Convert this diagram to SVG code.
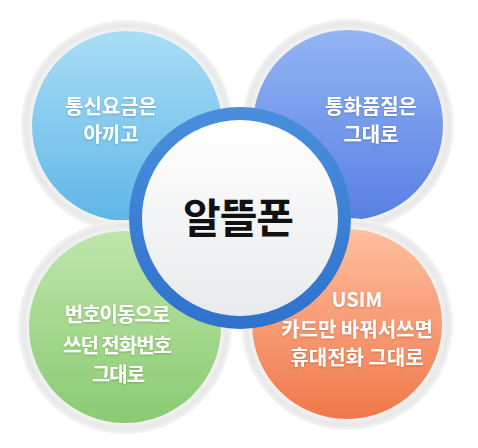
<svg xmlns="http://www.w3.org/2000/svg" width="478" height="448" viewBox="0 0 478 448">
  <defs>
    <linearGradient id="gBlue" x1="0" y1="0" x2="0" y2="1">
      <stop offset="0" stop-color="#a9def5"/>
      <stop offset="1" stop-color="#5fb6e8"/>
    </linearGradient>
    <linearGradient id="gIndigo" x1="0" y1="0" x2="0" y2="1">
      <stop offset="0" stop-color="#94b5f3"/>
      <stop offset="1" stop-color="#587fe4"/>
    </linearGradient>
    <linearGradient id="gGreen" x1="0" y1="0" x2="0" y2="1">
      <stop offset="0" stop-color="#bfe6ab"/>
      <stop offset="1" stop-color="#8acb72"/>
    </linearGradient>
    <linearGradient id="gOrange" x1="0" y1="0" x2="0" y2="1">
      <stop offset="0" stop-color="#ffbf9f"/>
      <stop offset="1" stop-color="#f0784a"/>
    </linearGradient>
    <radialGradient id="gRing" cx="0.5" cy="0.5" r="0.5">
      <stop offset="0.88" stop-color="#f7f7f7"/>
      <stop offset="0.95" stop-color="#e8e8ea"/>
      <stop offset="1" stop-color="#f4f4f4"/>
    </radialGradient>
    <linearGradient id="gCenter" x1="0" y1="0" x2="0" y2="1">
      <stop offset="0" stop-color="#ffffff"/>
      <stop offset="1" stop-color="#e9eaec"/>
    </linearGradient>
    <linearGradient id="gCRing" x1="0" y1="0" x2="0" y2="1">
      <stop offset="0" stop-color="#4a8fdc"/>
      <stop offset="1" stop-color="#2f72cc"/>
    </linearGradient>
    <filter id="ts" x="-10%" y="-30%" width="120%" height="160%">
      <feDropShadow dx="0" dy="1" stdDeviation="0.8" flood-color="#000" flood-opacity="0.2"/>
    </filter>
  </defs>
  <style>
    .ring { fill: url(#gRing); }
    .lbl { font-family: "Noto Sans CJK KR", "Noto Sans", sans-serif; font-size: 20px; font-weight: 700; fill: #ffffff; text-anchor: middle; letter-spacing: 0px; filter: url(#ts); }
    .tight { letter-spacing: -1px; }
    .ctr { font-family: "Noto Sans CJK KR", "Noto Sans", sans-serif; font-size: 41px; font-weight: 700; fill: #111111; text-anchor: middle; letter-spacing: -1px; }
  </style>
  <rect width="478" height="448" fill="#ffffff"/>
  <g id="connectors"></g>
  <g id="node-tl">
    <circle class="ring" cx="127" cy="126" r="106"/>
    <circle cx="127" cy="126" r="95" fill="url(#gBlue)"/>
    <text class="lbl" x="111" y="114">통신요금은</text>
    <text class="lbl" x="111" y="142">아끼고</text>
  </g>
  <g id="node-tr">
    <circle class="ring" cx="348" cy="125" r="106"/>
    <circle cx="348" cy="125" r="95" fill="url(#gIndigo)"/>
    <text class="lbl" x="371" y="114">통화품질은</text>
    <text class="lbl" x="371" y="142">그대로</text>
  </g>
  <g id="node-bl">
    <circle class="ring" cx="125" cy="327" r="107"/>
    <circle cx="125" cy="327" r="96" fill="url(#gGreen)"/>
    <text class="lbl tight" x="117" y="322">번호이동으로</text>
    <text class="lbl tight" x="117" y="353">쓰던 전화번호</text>
    <text class="lbl tight" x="118" y="382">그대로</text>
  </g>
  <g id="node-br">
    <circle class="ring" cx="347" cy="324" r="106"/>
    <circle cx="347" cy="324" r="95" fill="url(#gOrange)"/>
    <text class="lbl" x="357" y="307">USIM</text>
    <text class="lbl" x="357" y="337">카드만 바꿔서쓰면</text>
    <text class="lbl" x="357" y="365">휴대전화 그대로</text>
  </g>
  <g id="node-center">
    <circle cx="240" cy="218" r="111" fill="url(#gCRing)"/>
    <circle cx="240" cy="218" r="98" fill="url(#gCenter)"/>
    <text class="ctr" x="238" y="233">알뜰폰</text>
  </g>
</svg>
